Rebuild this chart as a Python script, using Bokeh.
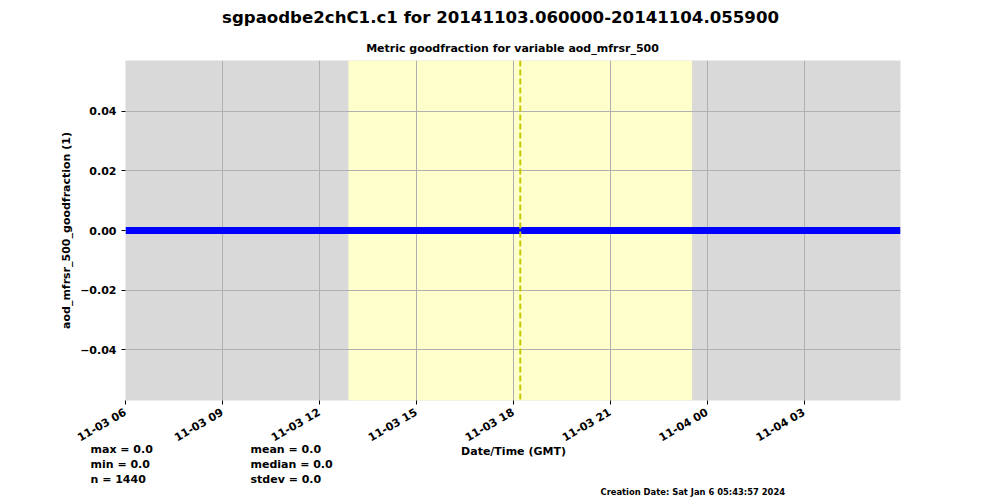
import math
import pandas as pd
from bokeh.plotting import figure
from bokeh.layouts import column
from bokeh.models import (Range1d, FixedTicker, DatetimeTickFormatter, BoxAnnotation,
                          Span, CustomJSTickFormatter)
from bokeh.core.properties import value
from bokeh.embed import file_html
from bokeh.resources import INLINE

# ---- data ----
times = ["2014-11-03 06:00", "2014-11-04 05:59"]
goodfraction = [0.0, 0.0]
sunrise = "2014-11-03 12:54"
sunset = "2014-11-03 23:32"
solar_noon = "2014-11-03 18:13"
x_tick_times = ["2014-11-03 06:00", "2014-11-03 09:00", "2014-11-03 12:00",
                "2014-11-03 15:00", "2014-11-03 18:00", "2014-11-03 21:00",
                "2014-11-04 00:00", "2014-11-04 03:00"]
y_ticks = [-0.04, -0.02, 0.0, 0.02, 0.04]
y_limits = [-0.0571, 0.0571]
stats_left = ["max = 0.0", "min = 0.0", "n = 1440"]
stats_mid = ["mean = 0.0", "median = 0.0", "stdev = 0.0"]
title_text = "sgpaodbe2chC1.c1 for 20141103.060000-20141104.055900"
subtitle_text = "Metric goodfraction for variable aod_mfrsr_500"
x_label = "Date/Time (GMT)"
y_label = "aod_mfrsr_500_goodfraction (1)"
creation_text = "Creation Date: Sat Jan  6 05:43:57 2024"

t = pd.to_datetime(times)
FONT = "DejaVu Sans"
W = 1000
TOP_H, FRAME_H, AX_H = 60, 340, 52
MAIN_H = FRAME_H + AX_H
OVERLAP = 8
BOT_H = 500 - TOP_H - MAIN_H + OVERLAP
DY = -4  # text baseline correction


def text_fig(h):
    f = figure(width=W, height=h, output_backend="svg", toolbar_location=None,
               x_range=Range1d(0, W), y_range=Range1d(h, 0),
               x_axis_location=None, y_axis_location=None,
               min_border=0, min_border_left=0, min_border_right=0,
               min_border_top=0, min_border_bottom=0)
    try:
        f.frame_align = False
    except Exception:
        pass
    f.outline_line_color = None
    f.grid.visible = False
    f.background_fill_alpha = 0
    f.border_fill_alpha = 0
    return f


def put(f, x, y, txt, size, align="left", baseline="alphabetic"):
    f.text(x=[x], y=[y + DY], text=[txt], text_font=value(FONT), text_font_style="bold",
           text_font_size=size, text_align=align, text_baseline=baseline,
           text_color="black")


# ---- top: titles ----
top = text_fig(TOP_H)
put(top, 500, 21, title_text, "16.6px", align="center")
put(top, 512, 52, subtitle_text, "11px", align="center")

# ---- main plot ----
p = figure(width=W, height=MAIN_H, output_backend="svg", toolbar_location=None,
           x_axis_type="datetime",
           x_range=Range1d(t.min(), t.max()),
           y_range=Range1d(y_limits[0], y_limits[1]),
           min_border_left=125, min_border_right=100,
           min_border_top=0, min_border_bottom=AX_H)
p.background_fill_color = "#d9d9d9"
p.border_fill_color = "white"
p.outline_line_color = None

p.add_layout(BoxAnnotation(left=pd.Timestamp(sunrise), right=pd.Timestamp(sunset),
                           fill_color="#ffffcc", fill_alpha=1.0, line_color=None,
                           level="image"))

p.line(t, goodfraction, line_color="#0000ff", line_width=7)

p.add_layout(Span(location=pd.Timestamp(solar_noon), dimension="height",
                  line_color="#c8c800", line_width=2, line_dash="6 3"))

p.grid.grid_line_color = "#b0b0b0"
p.grid.grid_line_width = 1

tick_ms = [pd.Timestamp(s).value // 10**6 for s in x_tick_times]
p.xaxis.ticker = FixedTicker(ticks=tick_ms)
p.xaxis.formatter = DatetimeTickFormatter(hours="%m-%d %H", days="%m-%d %H",
                                          minutes="%m-%d %H", hourmin="%m-%d %H")
p.xaxis.major_label_orientation = math.pi / 6
p.xaxis.major_label_standoff = 7

p.yaxis.ticker = FixedTicker(ticks=y_ticks)
p.yaxis.formatter = CustomJSTickFormatter(
    code="return (tick < -1e-9 ? '\u2212' : '') + Math.abs(tick).toFixed(2);")
p.yaxis.axis_label = y_label

for ax in (p.xaxis[0], p.yaxis[0]):
    ax.axis_line_color = None
    ax.major_tick_line_color = "black"
    ax.major_tick_out = 4
    ax.major_tick_in = 0
    ax.minor_tick_line_color = None
    ax.major_label_text_font = FONT
    ax.major_label_text_font_style = "bold"
    ax.major_label_text_font_size = "11px"
    ax.major_label_text_color = "black"
    ax.axis_label_text_font = FONT
    ax.axis_label_text_font_style = "bold"
    ax.axis_label_text_font_size = "11px"
    ax.axis_label_text_color = "black"
p.yaxis.axis_label_standoff = 4

# ---- bottom: axis label, statistics, creation date ----
bot = text_fig(BOT_H)
bot.margin = (-OVERLAP, 0, 0, 0)
y0 = TOP_H + MAIN_H - OVERLAP  # page y of this strip's top
put(bot, 513, 455 - y0, x_label, "11px", align="center")
for i, s in enumerate(stats_left):
    put(bot, 90, 453 + 15 * i - y0, s, "11px")
for i, s in enumerate(stats_mid):
    put(bot, 250, 453 + 15 * i - y0, s, "11px")
put(bot, 600, 495 - y0, creation_text, "8.4px")

layout = column(top, p, bot, spacing=0)
open("out.html", "w").write(file_html(layout, INLINE))
